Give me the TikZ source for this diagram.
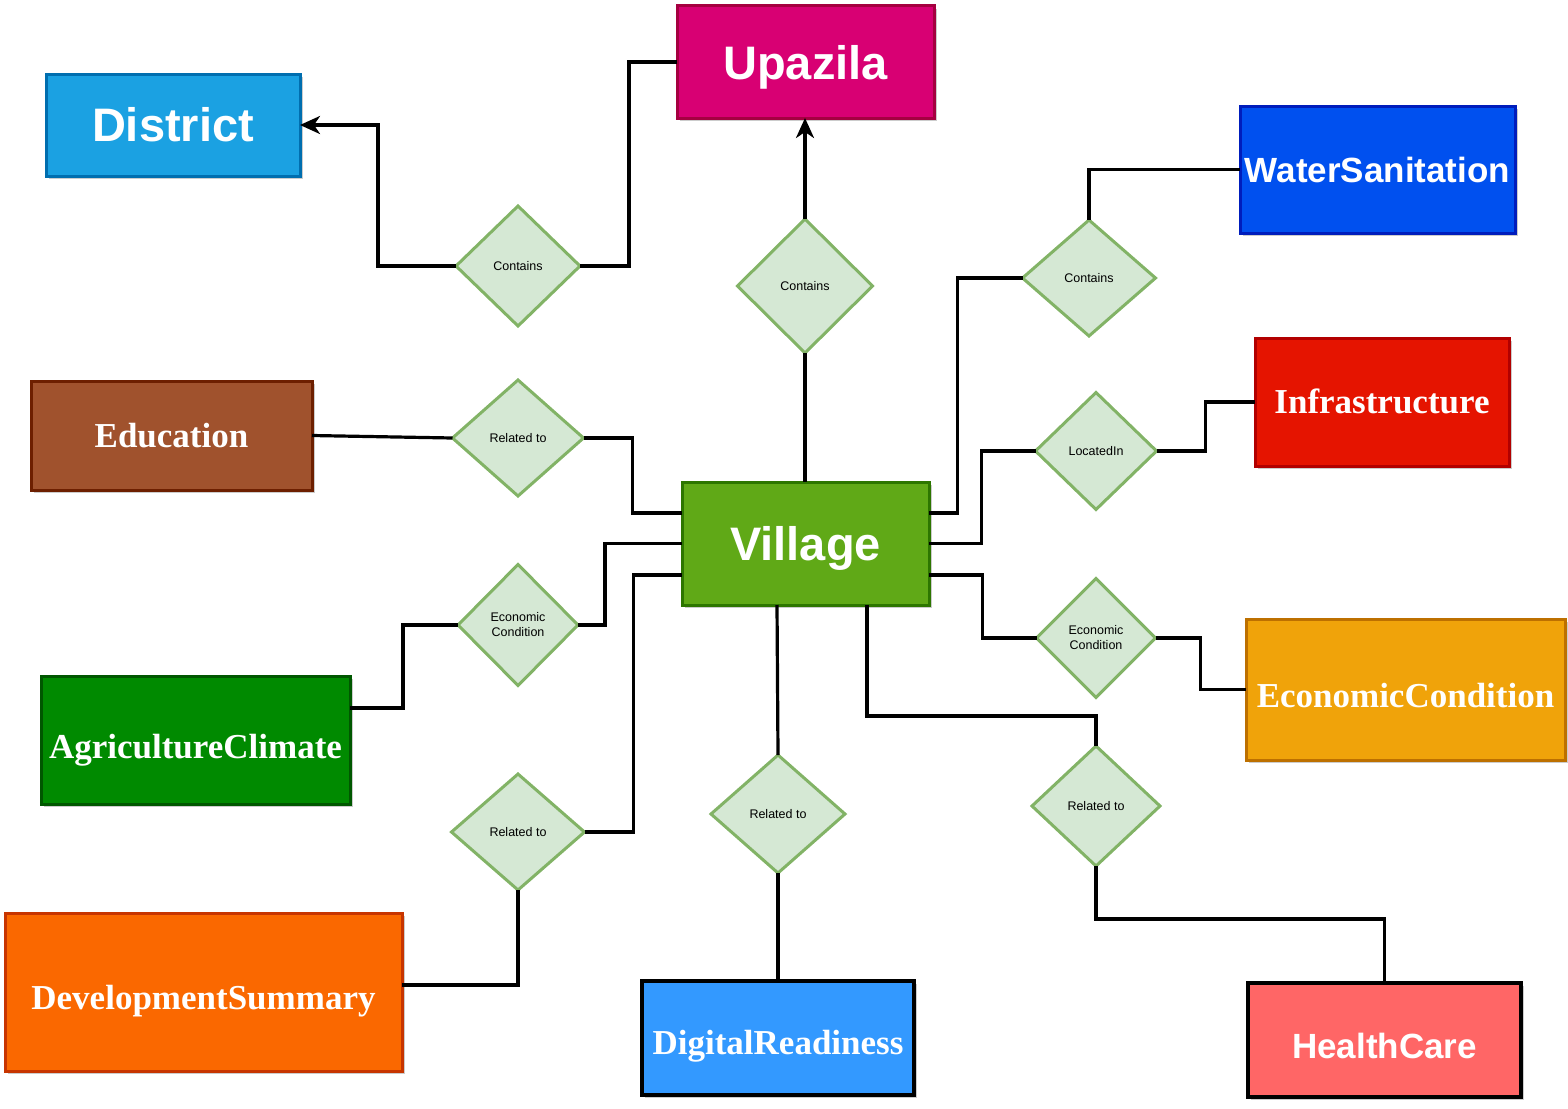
\documentclass[tikz,border=0pt]{standalone}
\usepackage{fontspec}
\setmainfont{Liberation Sans}
\newfontfamily\serifb{Liberation Serif}
\usetikzlibrary{shapes.geometric,arrows.meta,shadows}
\definecolor{cDistrict}{HTML}{1BA1E2}\definecolor{bDistrict}{HTML}{006EAF}
\definecolor{cUpazila}{HTML}{D80073}\definecolor{bUpazila}{HTML}{A50040}
\definecolor{cWater}{HTML}{0050EF}\definecolor{bWater}{HTML}{001DBC}
\definecolor{cInfra}{HTML}{E51400}\definecolor{bInfra}{HTML}{B20000}
\definecolor{cEdu}{HTML}{A0522D}\definecolor{bEdu}{HTML}{6D1F00}
\definecolor{cVillage}{HTML}{60A917}\definecolor{bVillage}{HTML}{2D7600}
\definecolor{cEcon}{HTML}{F0A30A}\definecolor{bEcon}{HTML}{BD7000}
\definecolor{cAgri}{HTML}{008A00}\definecolor{bAgri}{HTML}{005700}
\definecolor{cDev}{HTML}{FA6800}\definecolor{bDev}{HTML}{C73500}
\definecolor{cDigital}{HTML}{3399FF}
\definecolor{cHealth}{HTML}{FF6666}
\definecolor{cRel}{HTML}{D5E8D4}\definecolor{bRel}{HTML}{82B366}
\tikzset{
  entity/.style={rectangle, inner sep=0pt, outer sep=0pt, line width=3pt, text=white,
    drop shadow={shadow xshift=3pt, shadow yshift=-3pt, opacity=0.2, fill=black}},
  tb/.style={text height=#1, text depth=0pt},
  sansbig/.style={font=\bfseries\fontsize{47}{54}\selectfont},
  sansmid/.style={font=\bfseries\fontsize{35}{42}\selectfont},
  serifmid/.style={font=\serifb\bfseries\fontsize{35}{42}\selectfont},
  rel/.style={diamond, aspect=1, inner sep=0pt, outer sep=0pt, line width=3pt,
    fill=cRel, draw=bRel, align=center, font=\fontsize{12.5}{15}\selectfont},
  conn/.style={line width=3.2pt, black},
  arr/.style={conn, -{Stealth[length=20pt, width=18pt, inset=6pt]}}
}
\begin{document}
\begin{tikzpicture}[x=1pt, y=-1pt]
\useasboundingbox (0,0) rectangle (1568,1108);
% entities
\node[entity, sansbig, tb=32pt, fill=cDistrict, draw=bDistrict, minimum width=254pt, minimum height=102pt] (district) at (173,125) {District};
\node[entity, sansbig, tb=36pt, fill=cUpazila, draw=bUpazila, minimum width=257pt, minimum height=112pt] (upazila) at (805.5,62) {Upazila};
\node[entity, sansmid, tb=26pt, fill=cWater, draw=bWater, minimum width=275pt, minimum height=127pt] (water) at (1377.5,169.5) {WaterSanitation};
\node[entity, serifmid, tb=23pt, fill=cInfra, draw=bInfra, minimum width=254pt, minimum height=128pt] (infra) at (1382,402) {Infrastructure};
\node[entity, serifmid, tb=24pt, fill=cEdu, draw=bEdu, minimum width=281pt, minimum height=109pt] (edu) at (171.5,435.5) {Education};
\node[entity, sansbig, tb=34pt, fill=cVillage, draw=bVillage, minimum width=247pt, minimum height=123pt] (village) at (805.5,543.5) {Village};
\node[entity, serifmid, tb=35pt, fill=cEcon, draw=bEcon, minimum width=319pt, minimum height=141pt] (econ) at (1405.5,689.5) {EconomicCondition};
\node[entity, serifmid, tb=37pt, fill=cAgri, draw=bAgri, minimum width=309pt, minimum height=128pt] (agri) at (195.5,740) {AgricultureClimate};
\node[entity, serifmid, tb=34pt, fill=cDev, draw=bDev, minimum width=397pt, minimum height=158pt] (dev) at (203.5,992) {DevelopmentSummary};
\node[entity, serifmid, tb=32pt, fill=cDigital, draw=black, line width=3.5pt, minimum width=272pt, minimum height=114pt] (digital) at (778,1038) {DigitalReadiness};
\node[entity, sansmid, tb=37pt, fill=cHealth, draw=black, line width=3.5pt, minimum width=273pt, minimum height=114pt] (health) at (1384.5,1040) {HealthCare};
% relationships
\node[rel, minimum width=124pt, minimum height=120pt] (d1) at (518,266) {Contains};
\node[rel, minimum width=135pt, minimum height=134pt] (d2) at (805,286) {Contains};
\node[rel, minimum width=133pt, minimum height=116pt] (d3) at (1089,278) {Contains};
\node[rel, minimum width=131pt, minimum height=116pt] (d4) at (518,438) {Related to};
\node[rel, minimum width=121pt, minimum height=117pt] (d5) at (1096,451) {LocatedIn};
\node[rel, minimum width=120pt, minimum height=121pt] (d6) at (518,625) {Economic\\Condition};
\node[rel, minimum width=119pt, minimum height=119pt] (d7) at (1096,638) {Economic\\Condition};
\node[rel, minimum width=133pt, minimum height=116pt] (d8) at (518,832) {Related to};
\node[rel, minimum width=134pt, minimum height=118pt] (d9) at (778,814) {Related to};
\node[rel, minimum width=128pt, minimum height=120pt] (d10) at (1096,806) {Related to};
% connectors
\draw[conn] (d1.east) -- ++(49,0) |- (upazila.west);
\draw[arr] (d1.west) -- ++(-78,0) |- (district.east);
\draw[conn] (d2.south) -- (d2.south |- village.north);
\draw[arr] (d2.north) -- (d2.north |- upazila.south);
\draw[conn] (d3.north) |- (water.west);
\draw[conn] (d3.west) -- ++(-65,0) |- (village.east |- 0,513);
\draw[conn] (d4.west) -- (edu.east);
\draw[conn] (d4.east) -- ++(49,0) |- (village.west |- 0,513);
\draw[conn] (d5.west) -- ++(-54,0) |- (village.east);
\draw[conn] (d5.east) -- ++(49,0) |- (infra.west);
\draw[conn] (d6.east) -- ++(27,0) |- (village.west);
\draw[conn] (d6.west) -- ++(-55,0) |- (agri.east |- 0,708);
\draw[conn] (d7.west) -- ++(-54,0) |- (village.east |- 0,575);
\draw[conn] (d7.east) -- ++(45,0) |- (econ.west);
\draw[conn] (d8.east) -- ++(49,0) |- (village.west |- 0,575);
\draw[conn] (d8.south) |- (dev.east |- 0,985);
\draw[conn] (d9.north) -- (village.south -| 777,0);
\draw[conn] (d9.south) -- (digital.north);
\draw[conn] (d10.north) -- ++(0,-30) -| (village.south -| 867,0);
\draw[conn] (d10.south) -- ++(0,53) -| (health.north);
\end{tikzpicture}
\end{document}
